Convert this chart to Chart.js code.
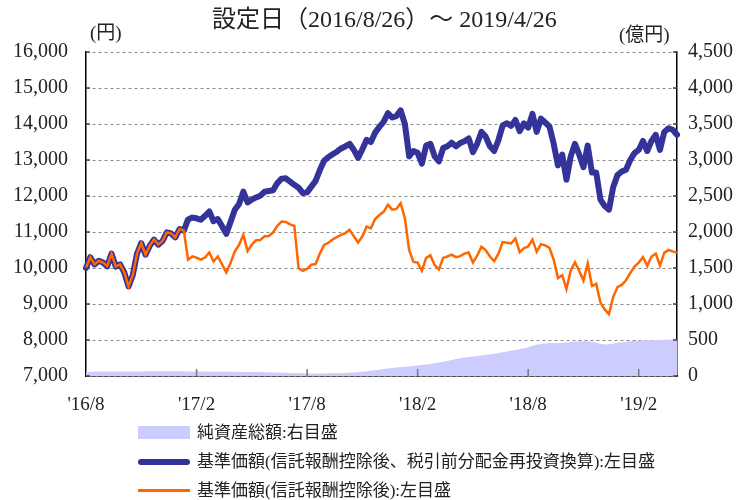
<!DOCTYPE html>
<html lang="ja">
<head>
<meta charset="UTF-8">
<title>基準価額・純資産の推移</title>
<script src="https://cdn.jsdelivr.net/npm/chart.js@4"></script>
<style>
  body { margin: 0; background: #fff; }
  .wrap { position: relative; width: 745px; height: 500px; overflow: hidden; font-family: "Liberation Serif", "Noto Sans CJK JP", serif; color: #222; }
  .wrap canvas { position: absolute; left: 0; top: 0; }
  .title { position: absolute; left: 212px; top: 5px; font-size: 24px; line-height: 28px; white-space: nowrap; }
  .unit { position: absolute; font-size: 19px; line-height: 22px; white-space: nowrap; }
  .legend { position: absolute; left: 138px; top: 418px; font-size: 17px; }
  .legend .row { display: flex; align-items: center; height: 29px; line-height: 20px; white-space: nowrap; }
  .legend .sw { width: 52px; margin-right: 7px; }
</style>
</head>
<body>
<div class="wrap">
  <canvas id="grafico" width="745" height="500"></canvas>
  <div class="title">設定日（2016/8/26）～ 2019/4/26</div>
  <div class="unit" style="left:90px; top:22px;">(円)</div>
  <div class="unit" style="left:619px; top:24px;">(億円)</div>
  <div class="legend">
    <div class="row"><span class="sw" style="height:13px; background:#ccccff;"></span>純資産総額:右目盛</div>
    <div class="row"><span class="sw" style="height:6px; border-radius:3px; background:#333399;"></span>基準価額(信託報酬控除後、税引前分配金再投資換算):左目盛</div>
    <div class="row"><span class="sw" style="height:3px; background:#ff6600;"></span>基準価額(信託報酬控除後):左目盛</div>
  </div>
</div>
<script>
  // 週次データ（2016/8/26 ～ 2019/4/26）
  const startDate = new Date(2016, 7, 26);
  const numWeeks = 140;

  // 目盛ラベル（26週ごと）
  const tickLabels = ["'16/8", "'17/2", "'17/8", "'18/2", "'18/8", "'19/2"];
  const tickEvery = 26;

  // 基準価額（税引前分配金再投資換算）
  const reinvested = [
    10000, 10300, 10100, 10200, 10150, 10050, 10400, 10040, 10100, 9880,
    9490, 9800, 10400, 10690, 10370, 10620, 10790, 10650, 10750, 10990,
    10960, 10850, 11080, 11040, 11350, 11400, 11380, 11340, 11450, 11570,
    11300, 11360, 11160, 10950, 11280, 11620, 11780, 12120, 11820, 11900,
    11960, 12010, 12120, 12140, 12160, 12360, 12480, 12490, 12400, 12310,
    12230, 12080, 12100, 12260, 12420, 12720, 12980, 13080, 13160, 13230,
    13320, 13380, 13450, 13280, 13060, 13300, 13560, 13500, 13760, 13920,
    14060, 14300, 14180, 14220, 14380, 14000, 13100, 13250, 13200, 12900,
    13400, 13450, 13100, 12960, 13330, 13380, 13480, 13380, 13470, 13520,
    13600, 13220, 13450, 13780, 13650, 13380, 13250, 13550, 13960, 14020,
    13950, 14110, 13800, 14020, 13900, 14280, 13780, 14150, 14040, 13930,
    13450, 12850, 13150, 12450, 13100, 13450, 13150, 12800, 13400, 12650,
    12650, 11900, 11720, 11620, 12250, 12580, 12680, 12730, 13000, 13190,
    13280, 13530, 13250, 13530, 13700, 13280, 13780, 13880, 13840, 13700
  ];

  // 基準価額（信託報酬控除後）
  const nav = [
    10000, 10300, 10100, 10200, 10150, 10050, 10400, 10040, 10100, 9880,
    9490, 9800, 10400, 10690, 10370, 10620, 10790, 10650, 10750, 10990,
    10960, 10850, 11080, 11040, 10230, 10320, 10290, 10230, 10290, 10430,
    10180, 10320, 10100, 9880, 10140, 10460, 10640, 10920, 10470, 10650,
    10770, 10780, 10880, 10890, 10990, 11170, 11290, 11280, 11210, 11170,
    9990, 9920, 9980, 10090, 10110, 10400, 10640, 10700, 10790, 10860,
    10920, 10970, 11060, 10880, 10710, 10880, 11150, 11100, 11360, 11470,
    11560, 11760, 11620, 11640, 11800, 11380, 10500, 10170, 10150, 9920,
    10280, 10350, 10080, 9960, 10280, 10320, 10370, 10300, 10330, 10400,
    10430, 10150, 10340, 10590, 10500, 10320, 10190, 10400, 10720, 10700,
    10680, 10820, 10440, 10550, 10600, 10790, 10450, 10660, 10630, 10560,
    10230, 9720, 9800, 9420, 9930, 10160, 9920, 9650, 10130, 9500,
    9560, 9040, 8850, 8720, 9200, 9470, 9530, 9660, 9860, 10040,
    10150, 10300, 10060, 10320, 10400, 10070, 10420, 10500, 10460, 10420
  ];

  // 純資産総額（億円）
  const netAssets = [
    58, 60, 62, 62, 63, 63, 64, 64, 64, 63,
    63, 63, 64, 64, 65, 65, 65, 66, 66, 66,
    66, 65, 65, 65, 64, 63, 62, 62, 61, 61,
    60, 60, 59, 59, 58, 58, 57, 57, 56, 56,
    55, 54, 53, 52, 50, 48, 46, 44, 42, 40,
    38, 37, 36, 36, 36, 36, 36, 37, 37, 38,
    40, 42, 45, 50, 55, 60, 66, 72, 80, 88,
    96, 104, 112, 118, 124, 128, 132, 138, 145, 152,
    160, 168, 178, 188, 198, 210, 222, 236, 248, 256,
    262, 270, 278, 286, 294, 302, 310, 320, 330, 342,
    352, 362, 372, 385, 400, 420, 435, 445, 452, 458,
    460, 458, 460, 466, 472, 476, 480, 482, 480, 476,
    462, 448, 436, 440, 452, 462, 470, 476, 482, 486,
    490, 494, 496, 498, 500, 500, 502, 502, 504, 505
  ];

  const labels = [];
  for (let i = 0; i < numWeeks; i++) {
    const d = new Date(startDate.getTime() + i * 7 * 86400000);
    labels.push(d.getFullYear() + '/' + (d.getMonth() + 1) + '/' + d.getDate());
  }

  const fontFamily = '"Liberation Serif", "Noto Sans CJK JP", serif';

  // 軸の内向き目盛線
  const innerTicks = {
    id: 'innerTicks',
    afterDraw(chart) {
      const ctx = chart.ctx;
      const area = chart.chartArea;
      const x = chart.scales.x;
      const y = chart.scales.y;
      ctx.save();
      ctx.lineWidth = 1.5;
      ctx.strokeStyle = '#777';
      for (let i = tickEvery; i < numWeeks; i += tickEvery) {
        const px = x.getPixelForValue(i);
        ctx.beginPath();
        ctx.moveTo(px, area.bottom);
        ctx.lineTo(px, area.bottom - 7);
        ctx.stroke();
      }
      ctx.strokeStyle = '#444';
      y.ticks.forEach(function (t) {
        const py = y.getPixelForValue(t.value);
        ctx.beginPath();
        ctx.moveTo(area.left, py);
        ctx.lineTo(area.left + 4, py);
        ctx.moveTo(area.right - 4, py);
        ctx.lineTo(area.right, py);
        ctx.stroke();
      });
      ctx.restore();
    }
  };

  const config = {
    type: 'line',
    data: {
      labels: labels,
      datasets: [
        {
          label: '基準価額(信託報酬控除後):左目盛',
          data: nav,
          yAxisID: 'y',
          borderColor: '#ff6600',
          borderWidth: 2.5,
          pointRadius: 0,
          tension: 0,
          order: 1
        },
        {
          label: '基準価額(信託報酬控除後、税引前分配金再投資換算):左目盛',
          data: reinvested,
          yAxisID: 'y',
          borderColor: '#333399',
          borderWidth: 6,
          borderJoinStyle: 'round',
          borderCapStyle: 'round',
          pointRadius: 0,
          tension: 0,
          order: 2
        },
        {
          label: '純資産総額:右目盛',
          data: netAssets,
          yAxisID: 'y2',
          borderWidth: 0,
          backgroundColor: '#ccccff',
          fill: 'origin',
          pointRadius: 0,
          tension: 0,
          order: 3
        }
      ]
    },
    options: {
      responsive: false,
      animation: false,
      layout: { padding: { top: 52, bottom: 80, left: 0, right: 0 } },
      plugins: {
        legend: { display: false },
        tooltip: { enabled: false }
      },
      scales: {
        x: {
          grid: { display: false },
          border: { color: '#000', width: 1.5 },
          ticks: {
            autoSkip: false,
            maxRotation: 0,
            padding: 10,
            color: '#222',
            font: { family: fontFamily, size: 19 },
            callback: function (v, i) {
              return i % tickEvery === 0 ? tickLabels[i / tickEvery] : '';
            }
          },
          afterFit: function (s) { s.height = 44; }
        },
        y: {
          position: 'left',
          min: 7000,
          max: 16000,
          grid: { color: '#8a8a8a', lineWidth: 1, drawTicks: false },
          border: { color: '#000', width: 1.5, dash: [3, 3] },
          ticks: {
            stepSize: 1000,
            padding: 18,
            color: '#222',
            font: { family: fontFamily, size: 20 },
            callback: function (v) { return v.toLocaleString('en-US'); }
          },
          afterFit: function (s) { s.width = 86; }
        },
        y2: {
          position: 'right',
          min: 0,
          max: 4500,
          grid: { display: false, drawTicks: false },
          border: { color: '#000', width: 1.5 },
          ticks: {
            stepSize: 500,
            padding: 11,
            color: '#222',
            font: { family: fontFamily, size: 20 },
            callback: function (v) { return v.toLocaleString('en-US'); }
          },
          afterFit: function (s) { s.width = 68; }
        }
      }
    },
    plugins: [innerTicks]
  };

  new Chart(document.getElementById('grafico'), config);
</script>
</body>
</html>
